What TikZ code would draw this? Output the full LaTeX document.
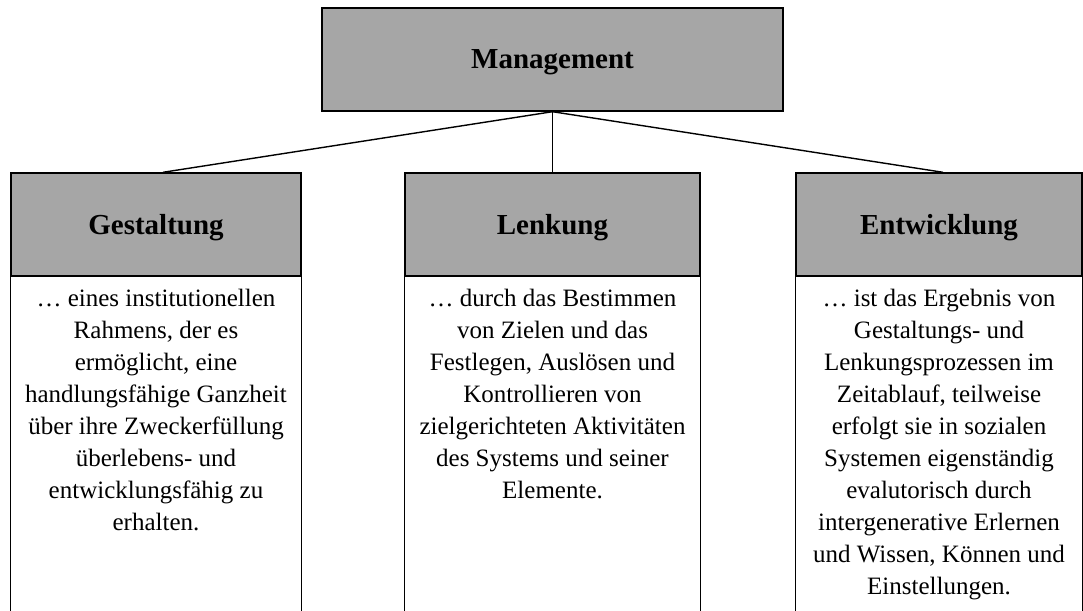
\documentclass[tikz,border=0pt]{standalone}
\usepackage{fontspec}
\setmainfont{Liberation Serif}
\definecolor{headgray}{HTML}{A6A6A6}
\begin{document}
\begin{tikzpicture}[x=1pt,y=-1pt,
  headbox/.style={draw=black, line width=1.4pt, fill=headgray, rectangle,
    minimum height=103pt, inner sep=0pt, text depth=0pt,
    font=\fontsize{29}{32}\selectfont\bfseries},
  bodytext/.style={align=center, inner sep=0pt, anchor=north,
    font=\fontsize{25}{32}\selectfont},
  link/.style={line width=1.4pt},
  side/.style={line width=1.4pt}]
  \useasboundingbox (0,0) rectangle (1083,610);
  \coordinate (bottom) at (0,611);

  % top box
  \node[headbox, minimum width=461pt] (mg) at (552.5,59.5) {Management};

  % column headers
  \node[headbox, minimum width=290pt] (ge) at (156,224.5) {Gestaltung};
  \node[headbox, minimum width=295pt] (le) at (552.5,224.5) {Lenkung};
  \node[headbox, minimum width=286pt] (en) at (939,224.5) {Entwicklung};

  % connectors
  \draw[link] (mg.south) -- ([xshift=7pt]ge.north);
  \draw[link] (mg.south) -- (le.north);
  \draw[link] (mg.south) -- ([xshift=4pt]en.north);

  % open-bottom body frames
  \foreach \h in {ge,le,en}{
    \draw[side] (\h.south west) -- (\h.south west |- bottom);
    \draw[side] (\h.south east) -- (\h.south east |- bottom);
  }

  % body texts
  \node[bodytext] (get) at (156,289) {\dots\ eines institutionellen\\
    Rahmens, der es\\ ermöglicht, eine\\ handlungsfähige Ganzheit\\
    über ihre Zweckerfüllung\\ überlebens- und\\
    entwicklungsfähig zu\\ erhalten.};
  \node[bodytext] (let) at (552.5,289) {\dots\ durch das Bestimmen\\
    von Zielen und das\\ Festlegen, Auslösen und\\ Kontrollieren von\\
    zielgerichteten Aktivitäten\\ des Systems und seiner\\ Elemente.};
  \node[bodytext] (ent) at (939,289) {\dots\ ist das Ergebnis von\\
    Gestaltungs- und\\ Lenkungsprozessen im\\ Zeitablauf, teilweise\\
    erfolgt sie in sozialen\\ Systemen eigenständig\\ evalutorisch durch\\
    intergenerative Erlernen\\ und Wissen, Können und\\ Einstellungen.};
\end{tikzpicture}
\end{document}
